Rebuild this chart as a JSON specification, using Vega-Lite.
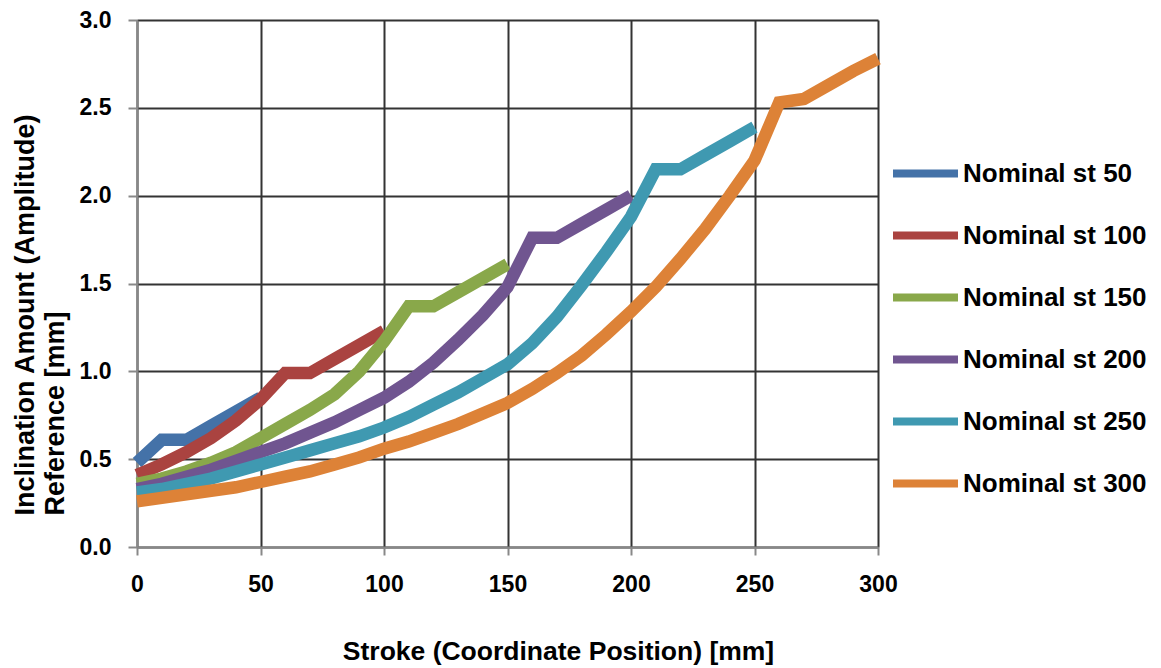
{
  "$schema": "https://vega.github.io/schema/vega-lite/v6.json",
  "autosize": {"type": "none"},
  "padding": {"left": 137, "top": 20, "right": 283, "bottom": 121},
  "width": 741,
  "height": 527,
  "background": "white",
  "config": {
    "view": {"stroke": null},
    "font": "Liberation Sans"
  },
  "data": {
    "values": [
      {"s": "Nominal st 50", "x": 0, "y": 0.48},
      {"s": "Nominal st 50", "x": 10, "y": 0.61},
      {"s": "Nominal st 50", "x": 20, "y": 0.61},
      {"s": "Nominal st 50", "x": 30, "y": 0.69},
      {"s": "Nominal st 50", "x": 40, "y": 0.77},
      {"s": "Nominal st 50", "x": 50, "y": 0.85},

      {"s": "Nominal st 100", "x": 0, "y": 0.41},
      {"s": "Nominal st 100", "x": 10, "y": 0.47},
      {"s": "Nominal st 100", "x": 20, "y": 0.54},
      {"s": "Nominal st 100", "x": 30, "y": 0.62},
      {"s": "Nominal st 100", "x": 40, "y": 0.72},
      {"s": "Nominal st 100", "x": 50, "y": 0.84},
      {"s": "Nominal st 100", "x": 60, "y": 0.99},
      {"s": "Nominal st 100", "x": 70, "y": 0.99},
      {"s": "Nominal st 100", "x": 80, "y": 1.07},
      {"s": "Nominal st 100", "x": 90, "y": 1.15},
      {"s": "Nominal st 100", "x": 100, "y": 1.23},

      {"s": "Nominal st 150", "x": 0, "y": 0.36},
      {"s": "Nominal st 150", "x": 10, "y": 0.39},
      {"s": "Nominal st 150", "x": 20, "y": 0.43},
      {"s": "Nominal st 150", "x": 30, "y": 0.48},
      {"s": "Nominal st 150", "x": 40, "y": 0.54},
      {"s": "Nominal st 150", "x": 50, "y": 0.62},
      {"s": "Nominal st 150", "x": 60, "y": 0.70},
      {"s": "Nominal st 150", "x": 70, "y": 0.78},
      {"s": "Nominal st 150", "x": 80, "y": 0.87},
      {"s": "Nominal st 150", "x": 90, "y": 1.00},
      {"s": "Nominal st 150", "x": 100, "y": 1.17},
      {"s": "Nominal st 150", "x": 110, "y": 1.37},
      {"s": "Nominal st 150", "x": 120, "y": 1.37},
      {"s": "Nominal st 150", "x": 130, "y": 1.45},
      {"s": "Nominal st 150", "x": 140, "y": 1.53},
      {"s": "Nominal st 150", "x": 150, "y": 1.61},

      {"s": "Nominal st 200", "x": 0, "y": 0.33},
      {"s": "Nominal st 200", "x": 10, "y": 0.36},
      {"s": "Nominal st 200", "x": 20, "y": 0.40},
      {"s": "Nominal st 200", "x": 30, "y": 0.44},
      {"s": "Nominal st 200", "x": 40, "y": 0.49},
      {"s": "Nominal st 200", "x": 50, "y": 0.54},
      {"s": "Nominal st 200", "x": 60, "y": 0.59},
      {"s": "Nominal st 200", "x": 70, "y": 0.65},
      {"s": "Nominal st 200", "x": 80, "y": 0.71},
      {"s": "Nominal st 200", "x": 90, "y": 0.78},
      {"s": "Nominal st 200", "x": 100, "y": 0.85},
      {"s": "Nominal st 200", "x": 110, "y": 0.94},
      {"s": "Nominal st 200", "x": 120, "y": 1.05},
      {"s": "Nominal st 200", "x": 130, "y": 1.18},
      {"s": "Nominal st 200", "x": 140, "y": 1.32},
      {"s": "Nominal st 200", "x": 150, "y": 1.48},
      {"s": "Nominal st 200", "x": 160, "y": 1.76},
      {"s": "Nominal st 200", "x": 170, "y": 1.76},
      {"s": "Nominal st 200", "x": 180, "y": 1.84},
      {"s": "Nominal st 200", "x": 190, "y": 1.92},
      {"s": "Nominal st 200", "x": 200, "y": 2.00},

      {"s": "Nominal st 250", "x": 0, "y": 0.31},
      {"s": "Nominal st 250", "x": 10, "y": 0.33},
      {"s": "Nominal st 250", "x": 20, "y": 0.36},
      {"s": "Nominal st 250", "x": 30, "y": 0.39},
      {"s": "Nominal st 250", "x": 40, "y": 0.43},
      {"s": "Nominal st 250", "x": 50, "y": 0.47},
      {"s": "Nominal st 250", "x": 60, "y": 0.51},
      {"s": "Nominal st 250", "x": 70, "y": 0.55},
      {"s": "Nominal st 250", "x": 80, "y": 0.59},
      {"s": "Nominal st 250", "x": 90, "y": 0.63},
      {"s": "Nominal st 250", "x": 100, "y": 0.68},
      {"s": "Nominal st 250", "x": 110, "y": 0.74},
      {"s": "Nominal st 250", "x": 120, "y": 0.81},
      {"s": "Nominal st 250", "x": 130, "y": 0.88},
      {"s": "Nominal st 250", "x": 140, "y": 0.96},
      {"s": "Nominal st 250", "x": 150, "y": 1.04},
      {"s": "Nominal st 250", "x": 160, "y": 1.16},
      {"s": "Nominal st 250", "x": 170, "y": 1.31},
      {"s": "Nominal st 250", "x": 180, "y": 1.49},
      {"s": "Nominal st 250", "x": 190, "y": 1.68},
      {"s": "Nominal st 250", "x": 200, "y": 1.88},
      {"s": "Nominal st 250", "x": 210, "y": 2.15},
      {"s": "Nominal st 250", "x": 220, "y": 2.15},
      {"s": "Nominal st 250", "x": 230, "y": 2.23},
      {"s": "Nominal st 250", "x": 240, "y": 2.31},
      {"s": "Nominal st 250", "x": 250, "y": 2.39},

      {"s": "Nominal st 300", "x": 0, "y": 0.26},
      {"s": "Nominal st 300", "x": 10, "y": 0.28},
      {"s": "Nominal st 300", "x": 20, "y": 0.30},
      {"s": "Nominal st 300", "x": 30, "y": 0.32},
      {"s": "Nominal st 300", "x": 40, "y": 0.34},
      {"s": "Nominal st 300", "x": 50, "y": 0.37},
      {"s": "Nominal st 300", "x": 60, "y": 0.40},
      {"s": "Nominal st 300", "x": 70, "y": 0.43},
      {"s": "Nominal st 300", "x": 80, "y": 0.47},
      {"s": "Nominal st 300", "x": 90, "y": 0.51},
      {"s": "Nominal st 300", "x": 100, "y": 0.56},
      {"s": "Nominal st 300", "x": 110, "y": 0.60},
      {"s": "Nominal st 300", "x": 120, "y": 0.65},
      {"s": "Nominal st 300", "x": 130, "y": 0.70},
      {"s": "Nominal st 300", "x": 140, "y": 0.76},
      {"s": "Nominal st 300", "x": 150, "y": 0.82},
      {"s": "Nominal st 300", "x": 160, "y": 0.90},
      {"s": "Nominal st 300", "x": 170, "y": 0.99},
      {"s": "Nominal st 300", "x": 180, "y": 1.09},
      {"s": "Nominal st 300", "x": 190, "y": 1.21},
      {"s": "Nominal st 300", "x": 200, "y": 1.34},
      {"s": "Nominal st 300", "x": 210, "y": 1.48},
      {"s": "Nominal st 300", "x": 220, "y": 1.64},
      {"s": "Nominal st 300", "x": 230, "y": 1.81},
      {"s": "Nominal st 300", "x": 240, "y": 2.00},
      {"s": "Nominal st 300", "x": 250, "y": 2.20},
      {"s": "Nominal st 300", "x": 260, "y": 2.53},
      {"s": "Nominal st 300", "x": 270, "y": 2.55},
      {"s": "Nominal st 300", "x": 280, "y": 2.63},
      {"s": "Nominal st 300", "x": 290, "y": 2.71},
      {"s": "Nominal st 300", "x": 300, "y": 2.78}
    ]
  },
  "mark": {"type": "line", "strokeWidth": 12.5, "strokeCap": "butt", "strokeJoin": "miter", "clip": false},
  "encoding": {
    "x": {
      "field": "x",
      "type": "quantitative",
      "scale": {"domain": [0, 300], "nice": false, "zero": true},
      "axis": {
        "values": [0, 50, 100, 150, 200, 250, 300],
        "title": "Stroke (Coordinate Position) [mm]",
        "titleFont": "Liberation Sans",
        "titleFontSize": 26.5,
        "titleFontWeight": "bold",
        "titleColor": "#000",
        "titleX": 421,
        "titleY": 91,
        "titleAlign": "center",
        "titleBaseline": "top",
        "labelFont": "Liberation Sans",
        "labelFontSize": 23,
        "labelFontWeight": "bold",
        "labelColor": "#000",
        "labelPadding": 18,
        "labelFlush": false,
        "tickSize": 8,
        "tickColor": "#888",
        "tickWidth": 2,
        "domainColor": "#888",
        "domainWidth": 2,
        "grid": true,
        "gridColor": "#333",
        "gridWidth": 2
      }
    },
    "y": {
      "field": "y",
      "type": "quantitative",
      "scale": {"domain": [0, 3], "nice": false},
      "axis": {
        "values": [0, 0.5, 1, 1.5, 2, 2.5, 3],
        "format": ".1f",
        "title": ["Inclination Amount (Amplitude)", "Reference [mm]"],
        "titleFont": "Liberation Sans",
        "titleFontSize": 27,
        "titleFontWeight": "bold",
        "titleColor": "#000",
        "titleAngle": -90,
        "titleAlign": "left",
        "titleBaseline": "top",
        "titleLineHeight": 30,
        "titleX": -125,
        "titleY": 495,
        "labelFont": "Liberation Sans",
        "labelFontSize": 23,
        "labelFontWeight": "bold",
        "labelColor": "#000",
        "labelPadding": 17,
        "labelFlush": false,
        "tickSize": 9,
        "tickColor": "#888",
        "tickWidth": 2,
        "domainColor": "#888",
        "domainWidth": 2,
        "grid": true,
        "gridColor": "#333",
        "gridWidth": 2
      }
    },
    "color": {
      "field": "s",
      "type": "nominal",
      "scale": {
        "domain": ["Nominal st 50", "Nominal st 100", "Nominal st 150", "Nominal st 200", "Nominal st 250", "Nominal st 300"],
        "range": ["#4472A8", "#AA4340", "#89A84A", "#705590", "#3F99B1", "#DD8237"]
      },
      "legend": {
        "title": null,
        "orient": "none",
        "legendX": 752,
        "legendY": 117,
        "padding": 0,
        "symbolType": "stroke",
        "symbolSize": 4225,
        "symbolStrokeWidth": 8,
        "rowPadding": 9,
        "labelOffset": 1,
        "labelFont": "Liberation Sans",
        "labelFontSize": 26,
        "labelFontWeight": "bold",
        "labelColor": "#000",
        "labelLimit": 400
      }
    },
    "order": {"field": "x", "type": "quantitative"}
  }
}
